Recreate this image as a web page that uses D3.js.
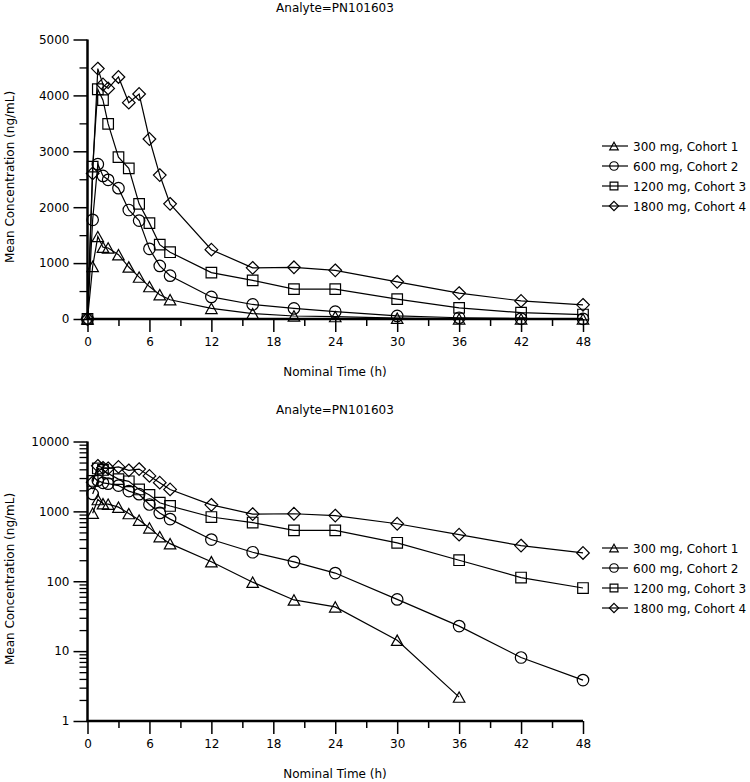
<!DOCTYPE html>
<html><head><meta charset="utf-8">
<script src="https://cdn.jsdelivr.net/npm/d3@7"></script>
<style>
body{margin:0;background:#fff;}
svg text{font-family:"DejaVu Sans",Verdana,sans-serif;font-size:12px;fill:#000;}
</style></head><body>
<svg id="chart" width="750" height="782"></svg>
<script>
const times = [0, 0.5, 1, 1.5, 2, 3, 4, 5, 6, 7, 8, 12, 16, 20, 24, 30, 36, 42, 48];
const c300  = [0, 940, 1475, 1285, 1270, 1150, 930, 750, 580, 435, 345, 190, 97, 54, 43, 14.3, 2.2, 0, 0];
const c600  = [0, 1775, 2770, 2560, 2490, 2340, 1950, 1760, 1255, 950, 775, 395, 260, 189, 131, 55, 22.8, 8.1, 3.85];
const c1200 = [0, 2725, 4110, 3915, 3490, 2895, 2695, 2060, 1715, 1330, 1195, 830, 692, 535, 535, 355, 200, 113, 80];
const c1800 = [0, 2605, 4480, 4195, 4125, 4330, 3870, 4025, 3220, 2575, 2060, 1240, 915, 925, 870, 665, 464, 324, 254];
const seriesNames = ["300 mg, Cohort 1", "600 mg, Cohort 2", "1200 mg, Cohort 3", "1800 mg, Cohort 4"];
const seriesValues = [c300, c600, c1200, c1800];
const symbols = ["triangle", "circle", "square", "diamond"];
const title = "Analyte=PN101603";
const xLabel = "Nominal Time (h)";
const yLabel = "Mean Concentration (ng/mL)";
const xTicks = [0, 6, 12, 18, 24, 30, 36, 42, 48];
const xMinor = [3, 9, 15, 21, 27, 33, 39, 45];
const linTicks = [0, 1000, 2000, 3000, 4000, 5000];
const linMinor = [500, 1500, 2500, 3500, 4500];
const logTicks = [1, 10, 100, 1000, 10000];

const svg = d3.select("#chart");

function markerPath(type, s) {
  const h = s / 2;
  if (type === "triangle") {
    const hh = s * 0.45;
    return `M${-h},${hh}L${h},${hh}L0,${-hh}Z`;
  }
  if (type === "circle") {
    return `M${h},0A${h},${h} 0 1,1 ${-h},0A${h},${h} 0 1,1 ${h},0Z`;
  }
  if (type === "square") {
    const q = s * 0.46;
    return `M${-q},${-q}L${q},${-q}L${q},${q}L${-q},${q}Z`;
  }
  const d = s * 0.55;
  return `M0,${-d}L${d},0L0,${d}L${-d},0Z`;
}

function drawPanel(yOff, isLog) {
  const g = svg.append("g").attr("transform", `translate(0,${yOff})`);
  const x = d3.scaleLinear().domain([0, 48]).range([87.5, 583]);
  const y = isLog
    ? d3.scaleLog().domain([1, 10000]).range([319, 39.5])
    : d3.scaleLinear().domain([0, 5000]).range([319, 39.5]);

  g.append("text").attr("x", 335).attr("y", 12).attr("text-anchor", "middle").text(title);

  const xMinorAxis = d3.axisBottom(x).tickValues(xMinor).tickSize(7).tickFormat("");
  g.append("g").attr("transform", `translate(0,${y.range()[0]})`).call(xMinorAxis)
    .call(a => a.select(".domain").remove())
    .call(a => a.selectAll("line").attr("stroke", "#000").attr("stroke-width", 1.5));
  const xAxis = d3.axisBottom(x).tickValues(xTicks).tickSize(13).tickPadding(5).tickFormat(d3.format("d"));
  g.append("g").attr("transform", `translate(0,${y.range()[0]})`).call(xAxis)
    .call(a => a.select(".domain").remove())
    .call(a => a.selectAll("line").attr("stroke", "#000").attr("stroke-width", 1.5))
    .call(a => a.selectAll("text").attr("font-size", 12).attr("font-family", "DejaVu Sans").attr("fill", "#000"));

  let minorVals;
  if (isLog) {
    minorVals = [];
    for (let k = 0; k < 4; k++) for (let m = 2; m <= 9; m++) minorVals.push(m * Math.pow(10, k));
  } else minorVals = linMinor;
  const yMinorAxis = d3.axisLeft(y).tickValues(minorVals).tickSize(8).tickFormat("");
  g.append("g").attr("transform", `translate(${x.range()[0]},0)`).call(yMinorAxis)
    .call(a => a.select(".domain").remove())
    .call(a => a.selectAll("line").attr("stroke", "#000").attr("stroke-width", 1.3));
  const yAxis = d3.axisLeft(y).tickValues(isLog ? logTicks : linTicks).tickSize(14).tickPadding(4).tickFormat(d3.format("d"));
  g.append("g").attr("transform", `translate(${x.range()[0]},0)`).call(yAxis)
    .call(a => a.select(".domain").remove())
    .call(a => a.selectAll("line").attr("stroke", "#000").attr("stroke-width", 1.5))
    .call(a => a.selectAll("text").attr("font-size", 12).attr("font-family", "DejaVu Sans").attr("fill", "#000"));

  g.append("line").attr("x1", x.range()[0]).attr("x2", x.range()[0])
    .attr("y1", y.range()[1]).attr("y2", y.range()[0] + 1)
    .attr("stroke", "#000").attr("stroke-width", 2.5);
  g.append("line").attr("x1", x.range()[0] - 1).attr("x2", x.range()[1])
    .attr("y1", y.range()[0]).attr("y2", y.range()[0])
    .attr("stroke", "#000").attr("stroke-width", 2.5);

  g.append("text").attr("x", 335).attr("y", 376).attr("text-anchor", "middle").text(xLabel);
  g.append("text").attr("transform", `translate(14,177) rotate(-90)`).attr("text-anchor", "middle").text(yLabel);

  const line = d3.line().x(d => x(d.t)).y(d => y(d.v));
  seriesValues.forEach((vals, i) => {
    let pts = times.map((t, j) => ({ t, v: vals[j] }));
    if (isLog) pts = pts.filter(d => d.v > 0);
    g.append("path").datum(pts).attr("d", line)
      .attr("fill", "none").attr("stroke", "#000").attr("stroke-width", 1.2);
    g.selectAll(null).data(pts).enter().append("path")
      .attr("transform", d => `translate(${x(d.t)},${y(d.v)})`)
      .attr("d", markerPath(symbols[i], 11.5))
      .attr("fill", "none").attr("stroke", "#000").attr("stroke-width", 1.2);
  });

  const legTop = 146;
  seriesNames.forEach((name, i) => {
    const yy = legTop + i * 20;
    g.append("line").attr("x1", 602).attr("x2", 628).attr("y1", yy).attr("y2", yy)
      .attr("stroke", "#000").attr("stroke-width", 1.2);
    g.append("path").attr("transform", `translate(614,${yy})`).attr("d", markerPath(symbols[i], 8.5))
      .attr("fill", "none").attr("stroke", "#000").attr("stroke-width", 1.2);
    g.append("text").attr("x", 633).attr("y", yy + 4.5).text(name);
  });
}

drawPanel(0, false);
drawPanel(402, true);
</script>
</body></html>
